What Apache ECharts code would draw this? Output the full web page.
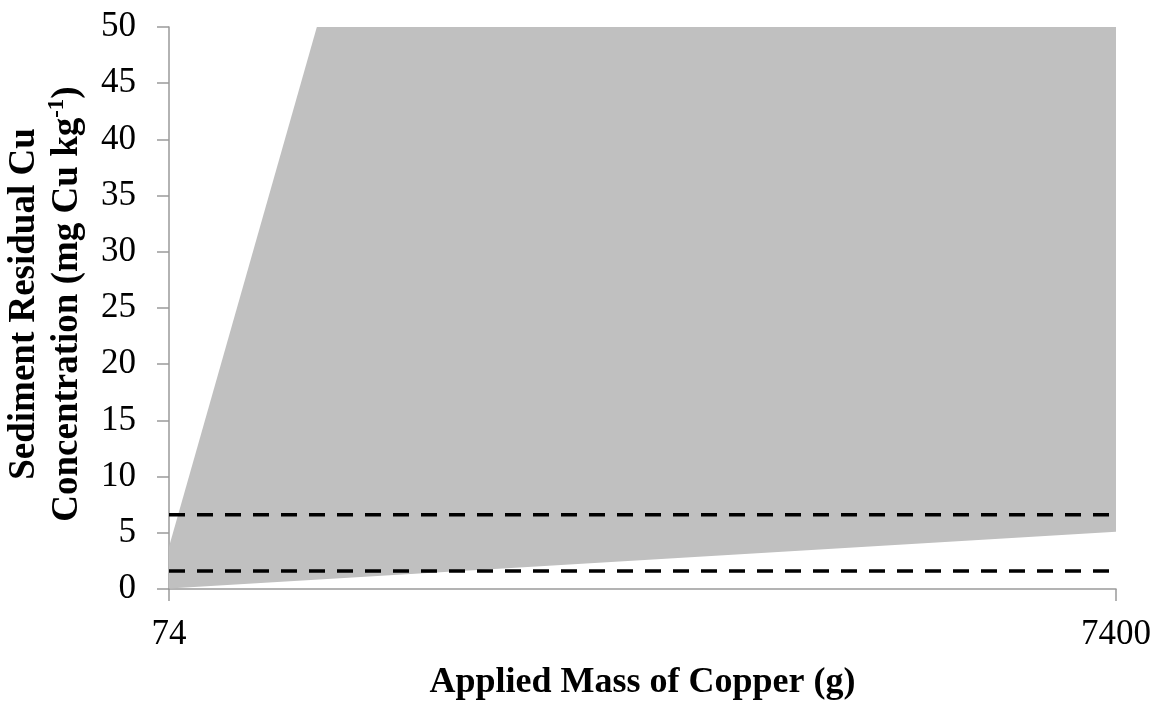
<!DOCTYPE html>
<html>
<head>
<meta charset="utf-8">
<script src="https://cdn.jsdelivr.net/npm/echarts@6/dist/echarts.min.js"></script>
<style>html,body{margin:0;padding:0;background:#fff;}#c{width:1161px;height:709px;}</style>
</head>
<body>
<div id="c"></div>
<script>
// Applied mass of copper (g)
var categories = ['74', '7400'];
// Lower and upper bounds of the residual Cu concentration band (mg Cu kg-1)
var lowerBound = [0.05, 5.1];
var upperBound = [3.75, 300];
// Reference (dashed) levels
var refHigh = [6.6, 6.6];
var refLow = [1.6, 1.6];

var bandWidth = upperBound.map(function (v, i) { return v - lowerBound[i]; });

var serif = '"Liberation Serif", "Times New Roman", serif';
var axisGray = '#9a9a9a';

var chart = echarts.init(document.getElementById('c'), null, { renderer: 'canvas' });
chart.setOption({
  animation: false,
  backgroundColor: '#fff',
  grid: { left: 169, right: 45, top: 27, bottom: 120, containLabel: false, outerBoundsMode: 'none' },
  xAxis: {
    type: 'category',
    data: categories,
    boundaryGap: false,
    name: 'Applied Mass of Copper (g)',
    nameLocation: 'middle',
    nameGap: 76,
    nameTextStyle: { fontFamily: serif, fontWeight: 'bold', fontSize: 36, color: '#000' },
    axisLine: { show: true, lineStyle: { color: axisGray, width: 1.5 } },
    axisTick: { show: true, length: 12, inside: false, lineStyle: { color: axisGray, width: 1.5 } },
    axisLabel: { fontFamily: serif, fontSize: 35, color: '#000', margin: 28 },
    splitLine: { show: false }
  },
  yAxis: {
    type: 'value',
    min: 0,
    max: 50,
    interval: 5,
    name: '{b|Sediment Residual Cu}\n{b|Concentration (mg Cu kg}{s|-1}{b|)}',
    nameLocation: 'middle',
    nameRotate: 90,
    nameGap: 80,
    nameTextStyle: {
      fontFamily: serif, color: '#000', padding: [0, 0, 0, 8],
      rich: {
        b: { fontFamily: serif, fontWeight: 'bold', fontSize: 37, color: '#000', lineHeight: 43 },
        s: { fontFamily: serif, fontWeight: 'bold', fontSize: 23, color: '#000', lineHeight: 43, verticalAlign: 'top', padding: [0, 0, 14, 0] }
      }
    },
    axisLine: { show: true, lineStyle: { color: axisGray, width: 1.5 } },
    axisTick: { show: true, length: 12, inside: false, lineStyle: { color: axisGray, width: 1.5 } },
    axisLabel: { fontFamily: serif, fontSize: 35, color: '#000', margin: 33 },
    splitLine: { show: false }
  },
  series: [
    {
      name: 'lower', type: 'line', stack: 'band', data: lowerBound,
      symbol: 'none', lineStyle: { width: 0, opacity: 0 }, silent: true, clip: true
    },
    {
      name: 'band', type: 'line', stack: 'band', data: bandWidth,
      symbol: 'none', lineStyle: { width: 0, opacity: 0 },
      areaStyle: { color: '#c0c0c0', opacity: 1 }, silent: true, clip: true
    },
    {
      name: 'refHigh', type: 'line', data: refHigh, symbol: 'none', z: 5,
      lineStyle: { color: '#000', width: 3.5, type: [16, 12] }
    },
    {
      name: 'refLow', type: 'line', data: refLow, symbol: 'none', z: 5,
      lineStyle: { color: '#000', width: 3.5, type: [16, 12] }
    }
  ]
});
</script>
</body>
</html>
